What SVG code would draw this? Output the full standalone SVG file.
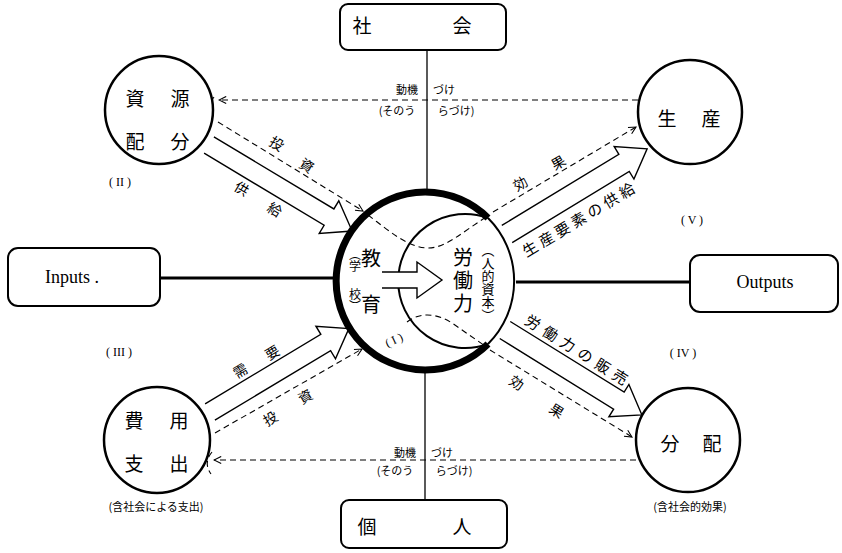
<svg xmlns="http://www.w3.org/2000/svg" width="842" height="553" viewBox="0 0 842 553">
<style>
.box{fill:#fff;stroke:#000;stroke-width:2}
.node{fill:#fff;stroke:#000;stroke-width:2.5}
.ln{fill:none;stroke:#000;stroke-width:1.3}
.thick{fill:none;stroke:#000;stroke-width:3}
.dash{fill:none;stroke:#000;stroke-width:1.1;stroke-dasharray:6 4}
.blk{fill:#fff;stroke:#000;stroke-width:1.4;stroke-linejoin:miter}
.jp{font-family:"Noto Sans CJK JP","Noto Sans CJK SC",sans-serif;fill:#000;text-anchor:middle;dominant-baseline:central}
.vt{font-family:"Noto Sans CJK JP","Noto Sans CJK SC",sans-serif;fill:#000;text-anchor:middle;writing-mode:vertical-rl}
.en{font-family:"Liberation Serif",serif;fill:#000;text-anchor:middle;dominant-baseline:central}
.big{font-size:19px}
.mid{font-size:14px}
.sm{font-size:11px}
.rn{font-size:12px}
</style>
<defs>
<marker id="ah" viewBox="0 0 10 10" refX="9" refY="5" markerWidth="9" markerHeight="9" orient="auto" markerUnits="userSpaceOnUse">
<path d="M1,1 L9,5 L1,9" fill="none" stroke="#000" stroke-width="1.2"/>
</marker>
</defs>

<g id="connectors">
<line class="ln" x1="427" y1="50" x2="427" y2="193"/>
<line class="ln" x1="425" y1="369" x2="425" y2="500"/>
<line class="thick" x1="160" y1="278" x2="337" y2="278"/>
<line class="thick" x1="516" y1="282" x2="690" y2="282"/>
<path class="dash" d="M638,100 L219,100" marker-end="url(#ah)"/>
<path class="dash" d="M636,460 L214,460" marker-end="url(#ah)"/>
<path class="dash" d="M218,122 L363,211" marker-end="url(#ah)"/>
<path class="dash" d="M215,433 L362,349" marker-end="url(#ah)"/>
<path class="dash" d="M493,212 L636,127" marker-end="url(#ah)"/>
<path class="dash" d="M490,350 L632,437" marker-end="url(#ah)"/>
<path class="dash" d="M214,97 Q204,110 213,124"/>
<path class="dash" d="M641,100 Q651,112 643,124"/>
<path class="dash" d="M212,452 Q203,463 211,474"/>
<path class="blk" transform="translate(209,145) rotate(31)" d="M0,-9.5 L140,-9.5 L140,-19 L167,0 L140,19 L140,9.5 L0,9.5"/>
<path class="blk" transform="translate(210,412) rotate(-31)" d="M0,-9.5 L135,-9.5 L135,-19 L162,0 L135,19 L135,9.5 L0,9.5"/>
<path class="blk" transform="translate(507,234) rotate(-31.3)" d="M0,-10 L137,-10 L137,-19 L164,0 L137,19 L137,10 L0,10"/>
<path class="blk" transform="translate(505,330) rotate(31.8)" d="M0,-10 L134,-10 L134,-19 L161,0 L134,19 L134,10 L0,10"/>
</g>

<g id="center">
<circle cx="426" cy="281" r="89" fill="#fff" stroke="none"/>
<path d="M488,218 A89,89 0 1 0 488,344" fill="none" stroke="#000" stroke-width="7"/>
<path d="M488,218 A89,89 0 0 1 488,344" fill="none" stroke="#000" stroke-width="2"/>
<path d="M488,218 A67,67 0 1 0 488,344" fill="none" stroke="#000" stroke-width="2"/>
<path class="dash" d="M368,215 C388,230 408,248 428,248 C446,248 462,232 488,216"/>
<path class="dash" d="M407,322 C420,312 436,313 452,323 L488,348"/>
<path class="blk" d="M382,272 L417,272 L417,262 L442,280 L417,298 L417,288 L382,288"/>
<text class="jp" x="371" y="257" font-size="20">教</text>
<text class="jp" x="371" y="303" font-size="20">育</text>
<text class="vt" x="355" y="260" font-size="12">（学</text>
<text class="vt" x="355" y="300" font-size="12">校）</text>
<text class="vt" x="463" y="282" font-size="20" letter-spacing="3">労働力</text>
<text class="vt" x="488" y="283" font-size="13">（人的資本）</text>
<text class="en" font-size="12" transform="translate(394,340) rotate(-25)">( I )</text>
</g>

<g id="shakai">
<rect class="box" x="340" y="4" width="166" height="46" rx="8"/>
<text class="jp big" x="362" y="24">社</text>
<text class="jp big" x="462" y="24">会</text>
</g>
<g id="kojin">
<rect class="box" x="341" y="500" width="166" height="48" rx="8"/>
<text class="jp big" x="367" y="525">個</text>
<text class="jp big" x="462" y="525">人</text>
</g>
<g id="inputs">
<rect class="box" x="8" y="248" width="152" height="58" rx="10"/>
<text class="en" x="72" y="277" font-size="18">Inputs .</text>
</g>
<g id="outputs">
<rect class="box" x="690" y="255" width="148" height="57" rx="10"/>
<text class="en" x="765" y="282" font-size="18">Outputs</text>
</g>

<g id="shigen">
<circle class="node" cx="159" cy="110" r="54"/>
<text class="jp big" x="135" y="97">資</text>
<text class="jp big" x="180" y="97">源</text>
<text class="jp big" x="135" y="140">配</text>
<text class="jp big" x="180" y="140">分</text>
</g>
<g id="seisan">
<circle class="node" cx="690" cy="112" r="52"/>
<text class="jp big" x="667" y="117">生</text>
<text class="jp big" x="711" y="117">産</text>
</g>
<g id="hiyo">
<circle class="node" cx="157" cy="440" r="53"/>
<text class="jp big" x="134" y="419">費</text>
<text class="jp big" x="179" y="419">用</text>
<text class="jp big" x="134" y="462">支</text>
<text class="jp big" x="179" y="462">出</text>
<text class="jp sm" x="156" y="506">(含社会による支出)</text>
</g>
<g id="bunpai">
<circle class="node" cx="688" cy="440" r="52"/>
<text class="jp big" x="670" y="442">分</text>
<text class="jp big" x="712" y="442">配</text>
<text class="jp sm" x="690" y="506">(含社会的効果)</text>
</g>

<g id="labels">
<text class="jp sm" x="407" y="89">動機</text>
<text class="jp sm" x="444" y="89">づけ</text>
<text class="jp sm" x="397" y="110">(そのう</text>
<text class="jp sm" x="456" y="110">らづけ)</text>
<text class="jp sm" x="405" y="452">動機</text>
<text class="jp sm" x="442" y="452">づけ</text>
<text class="jp sm" x="395" y="470">(そのう</text>
<text class="jp sm" x="454" y="470">らづけ)</text>
<text class="jp mid" transform="translate(277,143) rotate(31)">投</text>
<text class="jp mid" transform="translate(307,165) rotate(31)">資</text>
<text class="jp mid" transform="translate(242,188) rotate(31)">供</text>
<text class="jp mid" transform="translate(275,209) rotate(31)">給</text>
<text class="jp mid" transform="translate(520,183) rotate(-31)">効</text>
<text class="jp mid" transform="translate(558,162) rotate(-31)">果</text>
<text class="jp" font-size="15" textLength="128" lengthAdjust="spacing" transform="translate(578,219) rotate(-31)">生産要素の供給</text>
<text class="jp" font-size="15" textLength="118" lengthAdjust="spacing" transform="translate(577,349) rotate(32)">労働力の販売</text>
<text class="jp mid" transform="translate(517,382) rotate(32)">効</text>
<text class="jp mid" transform="translate(557,410) rotate(32)">果</text>
<text class="jp mid" transform="translate(240,370) rotate(-31)">需</text>
<text class="jp mid" transform="translate(272,352) rotate(-31)">要</text>
<text class="jp mid" transform="translate(270,418) rotate(-31)">投</text>
<text class="jp mid" transform="translate(305,396) rotate(-31)">資</text>
<text class="en rn" x="120" y="182">( II )</text>
<text class="en rn" x="119" y="352">( III )</text>
<text class="en rn" x="692" y="220">( V )</text>
<text class="en rn" x="683" y="353">( IV )</text>
</g>
</svg>
